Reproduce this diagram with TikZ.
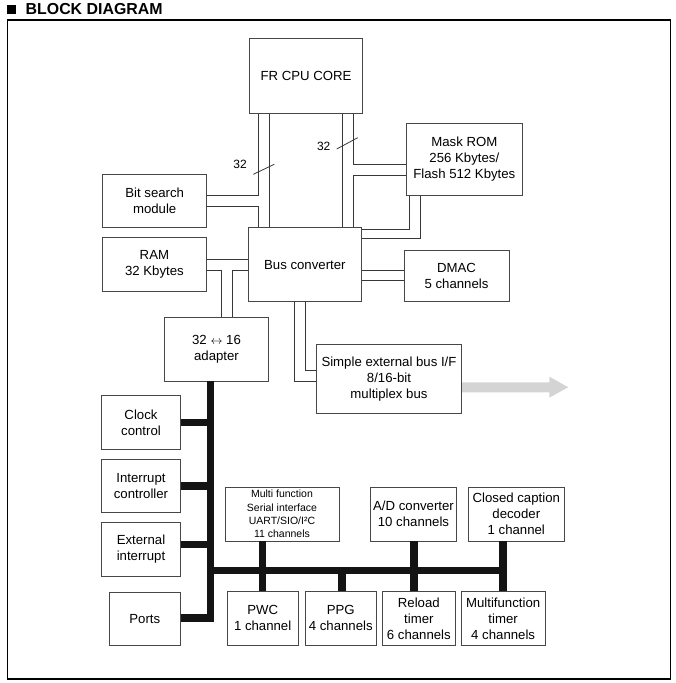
\documentclass[tikz,border=0pt]{standalone}
\usepackage{fontspec}
\setmainfont{Liberation Sans}
\begin{document}
\begin{tikzpicture}[x=1pt,y=-1pt,
  box/.style={draw=black!72, line width=0.9pt, inner sep=1pt, align=center,
    font=\fontsize{13.2}{16}\selectfont},
  smallbox/.style={box, font=\fontsize{10.5}{13.3}\selectfont},
  bus/.style={draw=black!78, line width=0.8pt},
  thickbus/.style={draw=black!92, line width=7.5pt, miter limit=10},
  lbl/.style={inner sep=0pt, font=\fontsize{12}{14}\selectfont}]
\useasboundingbox (0,0) rectangle (675,683);
% header and frame
\node[fill=black, minimum size=9.3pt, inner sep=0pt] (sq) at (11.35,9.35) {};
\node[anchor=west, inner sep=0pt, font=\fontsize{15.9}{18}\selectfont\bfseries] (title) at (25.5,9.2) {BLOCK DIAGRAM};
\draw[line width=1.4pt] (7.3,20) rectangle (670.7,679);
% boxes
\node[box, minimum width=113.4pt, minimum height=75pt] (cpu) at (306,75.8) {FR CPU CORE};
\node[box, minimum width=116.7pt, minimum height=72.4pt] (rom) at (464.35,159.5) {Mask ROM\\256 Kbytes/\\Flash 512 Kbytes};
\node[box, minimum width=104pt, minimum height=53.4pt] (bits) at (154.7,201) {Bit search\\module};
\node[box, minimum width=104.2pt, minimum height=53.7pt] (ram) at (154.4,264.2) {RAM\\32 Kbytes};
\node[box, minimum width=113.7pt, minimum height=74pt] (busc) at (304.85,264.7) {Bus converter};
\node[box, minimum width=105pt, minimum height=51.7pt] (dmac) at (456.5,275.85) {DMAC\\5 channels};
\node[box, minimum width=104.4pt, minimum height=63.7pt] (adapt) at (216.5,349.15) {32 $\leftrightarrow$ 16\\adapter};
\node[box, minimum width=145.4pt, minimum height=68.7pt] (ext) at (389,378.65) {Simple external bus I/F\\8/16-bit\\multiplex bus};
\node[box, minimum width=78.6pt, minimum height=53.3pt] (clock) at (141,422.35) {Clock\\control};
\node[box, minimum width=78.6pt, minimum height=53.3pt] (intc) at (141,485.65) {Interrupt\\controller};
\node[box, minimum width=78.6pt, minimum height=53.3pt] (exti) at (141,549.35) {External\\interrupt};
\node[box, minimum width=71pt, minimum height=53.4pt] (ports) at (144.8,619) {Ports};
\node[smallbox, minimum width=114pt, minimum height=53.7pt] (sio) at (282,514.15) {Multi function\\Serial interface\\UART/SIO/I²C\\11 channels};
\node[box, minimum width=86.4pt, minimum height=53.7pt] (adc) at (413.5,514.15) {A/D converter\\10 channels};
\node[box, minimum width=96pt, minimum height=53.7pt] (ccd) at (516.3,514.15) {Closed caption\\decoder\\1 channel};
\node[box, minimum width=71.3pt, minimum height=54pt] (pwc) at (262.65,618.3) {PWC\\1 channel};
\node[box, minimum width=71pt, minimum height=54pt] (ppg) at (340.8,618.3) {PPG\\4 channels};
\node[box, minimum width=73.7pt, minimum height=54pt] (rld) at (418.85,618.3) {Reload\\timer\\6 channels};
\node[box, minimum width=83.7pt, minimum height=54pt] (mft) at (503.15,618.3) {Multifunction\\timer\\4 channels};
% CPU <-> bus converter, bit search
\draw[bus] (bits.east |- 0,195.7) -- (258.7,195.7) -- (cpu.south -| 258.7,0);
\draw[bus] (bits.east |- 0,206.7) -- (258.7,206.7) -- (busc.north -| 258.7,0);
\draw[bus] (cpu.south -| 269.3,0) -- (busc.north -| 269.3,0);
\draw[bus] (cpu.south -| 342.7,0) -- (busc.north -| 342.7,0);
\draw[bus] (cpu.south -| 353.3,0) -- (353.3,164.3) -- (rom.west |- 0,164.3);
\draw[bus] (rom.west |- 0,175.3) -- (353.3,175.3) -- (busc.north -| 353.3,0);
% width marks
\draw[bus] (253.3,174.3) -- (274.3,164.3);
\node[lbl] (w1) at (240,164) {32};
\draw[bus] (336.7,149) -- (357.7,137.7);
\node[lbl] (w2) at (323.7,146) {32};
% ROM <-> bus converter
\draw[bus] (rom.south -| 409.3,0) -- (409.3,229) -- (busc.east |- 0,229);
\draw[bus] (rom.south -| 420,0) -- (420,238.7) -- (busc.east |- 0,238.7);
% RAM, adapter
\draw[bus] (ram.east |- 0,259.3) -- (busc.west |- 0,259.3);
\draw[bus] (ram.east |- 0,270) -- (221.7,270) -- (adapt.north -| 221.7,0);
\draw[bus] (busc.west |- 0,270) -- (232.7,270) -- (adapt.north -| 232.7,0);
% DMAC
\draw[bus] (busc.east |- 0,270) -- (dmac.west |- 0,270);
\draw[bus] (busc.east |- 0,280.7) -- (dmac.west |- 0,280.7);
% external bus
\draw[bus] (busc.south -| 305,0) -- (305,370.7) -- (ext.west |- 0,370.7);
\draw[bus] (busc.south -| 294.3,0) -- (294.3,381.7) -- (ext.west |- 0,381.7);
\fill[black!17] (ext.east |- 0,382.3) -- (549.3,382.3) -- (549.3,376.7) -- (568.3,387.2)
  -- (549.3,397.7) -- (549.3,392.3) -- (ext.east |- 0,392.3) -- cycle;
% peripheral bus
\coordinate (hb1) at (210.3,570.5);
\coordinate (hb2) at (507,570.5);
\draw[thickbus] (adapt.south -| hb1) -- (hb1 |- 0,618) -- (ports.east |- 0,618);
\draw[thickbus] (clock.east) -- (clock.east -| hb1);
\draw[thickbus] (intc.east |- 0,486.2) -- (hb1 |- 0,486.2);
\draw[thickbus] (exti.east |- 0,544.5) -- (hb1 |- 0,544.5);
\draw[thickbus] (hb1) -- (hb2);
\draw[thickbus] (sio.south -| pwc.north) -- (pwc.north);
\draw[thickbus] (ppg.north -| 341.85,0) -- (hb1 -| 341.85,0);
\draw[thickbus] (adc.south -| 413.85,0) -- (rld.north -| 413.85,0);
\draw[thickbus] (ccd.south -| mft.north) -- (mft.north);
\end{tikzpicture}
\end{document}
